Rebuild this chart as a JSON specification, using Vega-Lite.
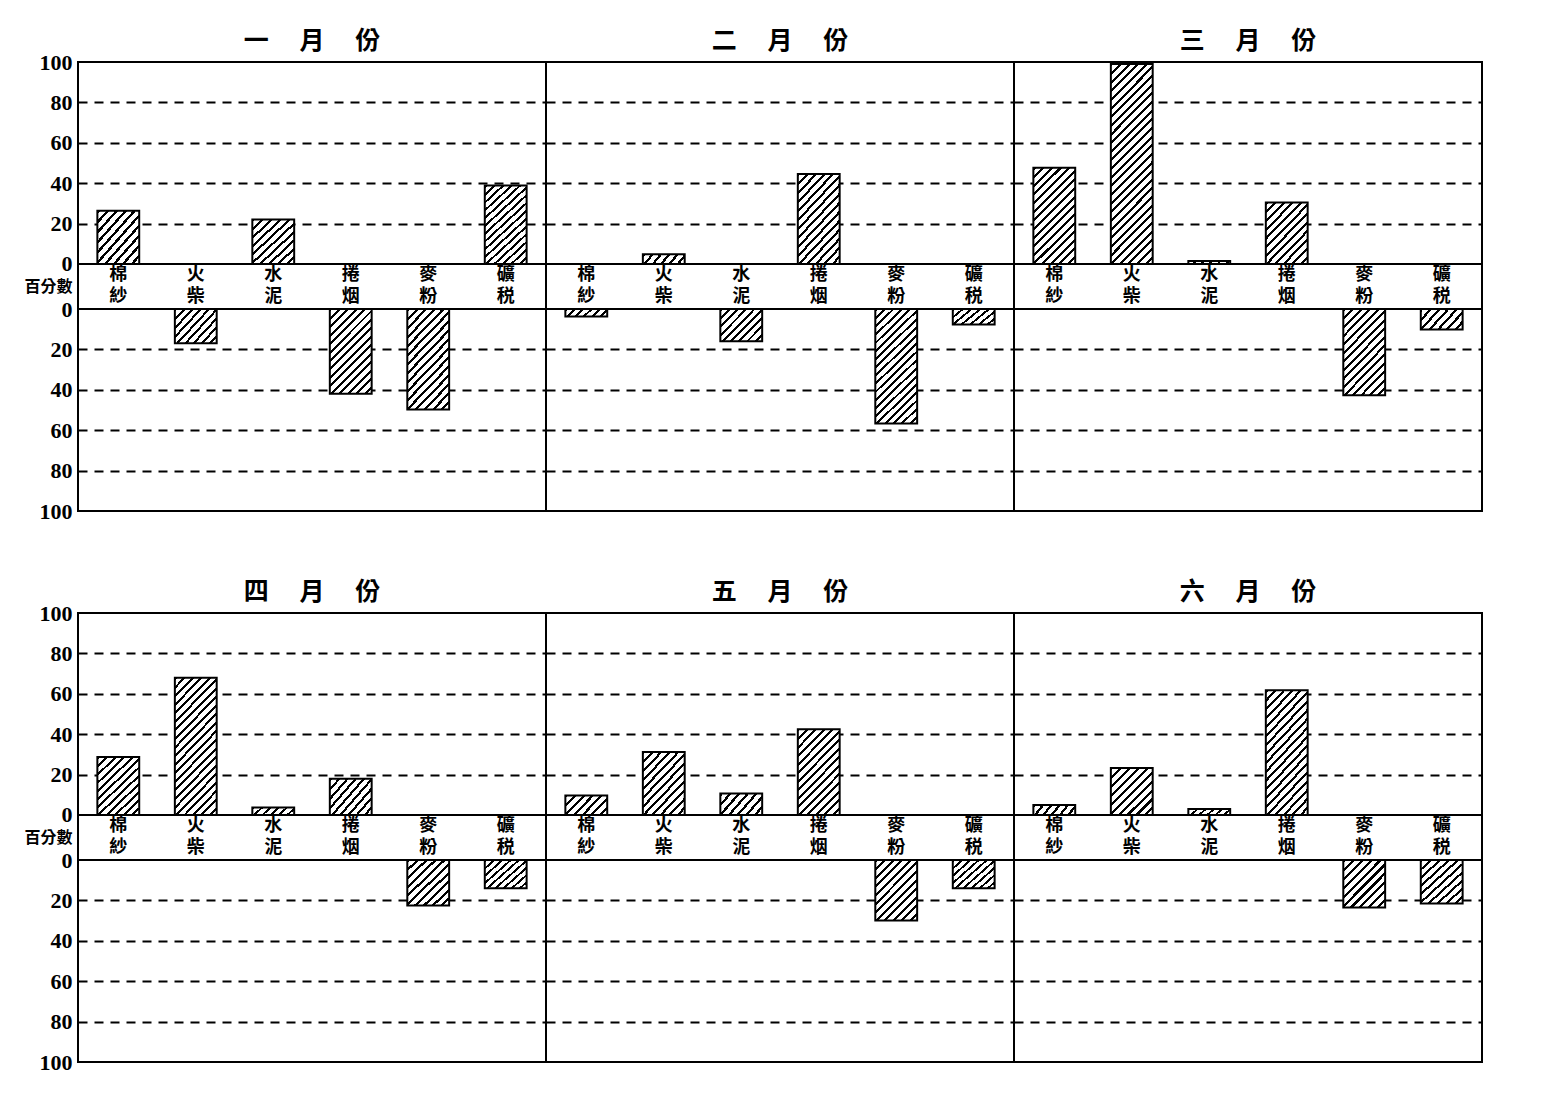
{
"$schema": "https://vega.github.io/schema/vega-lite/v6.json",
"background": "#ffffff",
"padding": {"left": 14, "top": 28, "right": 40, "bottom": 20},
"params": [{"name": "hatch", "value": [
{"gradient":"linear","x1":0,"y1":0,"x2":1.149,"y2":0.219,"stops":[{"offset":0,"color":"#000"},{"offset":0.0583,"color":"#000"},{"offset":0.0583,"color":"#fff"},{"offset":0.1667,"color":"#fff"},{"offset":0.1667,"color":"#000"},{"offset":0.225,"color":"#000"},{"offset":0.225,"color":"#fff"},{"offset":0.3333,"color":"#fff"},{"offset":0.3333,"color":"#000"},{"offset":0.3917,"color":"#000"},{"offset":0.3917,"color":"#fff"},{"offset":0.5,"color":"#fff"},{"offset":0.5,"color":"#000"},{"offset":0.5583,"color":"#000"},{"offset":0.5583,"color":"#fff"},{"offset":0.6667,"color":"#fff"},{"offset":0.6667,"color":"#000"},{"offset":0.725,"color":"#000"},{"offset":0.725,"color":"#fff"},{"offset":0.8333,"color":"#fff"},{"offset":0.8333,"color":"#000"},{"offset":0.8917,"color":"#000"},{"offset":0.8917,"color":"#fff"},{"offset":1,"color":"#fff"}]},
{"gradient":"linear","x1":0,"y1":0,"x2":1.206,"y2":0.545,"stops":[{"offset":0,"color":"#000"},{"offset":0.05,"color":"#000"},{"offset":0.05,"color":"#fff"},{"offset":0.1429,"color":"#fff"},{"offset":0.1429,"color":"#000"},{"offset":0.1929,"color":"#000"},{"offset":0.1929,"color":"#fff"},{"offset":0.2857,"color":"#fff"},{"offset":0.2857,"color":"#000"},{"offset":0.3357,"color":"#000"},{"offset":0.3357,"color":"#fff"},{"offset":0.4286,"color":"#fff"},{"offset":0.4286,"color":"#000"},{"offset":0.4786,"color":"#000"},{"offset":0.4786,"color":"#fff"},{"offset":0.5714,"color":"#fff"},{"offset":0.5714,"color":"#000"},{"offset":0.6214,"color":"#000"},{"offset":0.6214,"color":"#fff"},{"offset":0.7143,"color":"#fff"},{"offset":0.7143,"color":"#000"},{"offset":0.7643,"color":"#000"},{"offset":0.7643,"color":"#fff"},{"offset":0.8571,"color":"#fff"},{"offset":0.8571,"color":"#000"},{"offset":0.9071,"color":"#000"},{"offset":0.9071,"color":"#fff"},{"offset":1,"color":"#fff"}]},
{"gradient":"linear","x1":0,"y1":0,"x2":1.115,"y2":0.849,"stops":[{"offset":0,"color":"#000"},{"offset":0.0389,"color":"#000"},{"offset":0.0389,"color":"#fff"},{"offset":0.1111,"color":"#fff"},{"offset":0.1111,"color":"#000"},{"offset":0.15,"color":"#000"},{"offset":0.15,"color":"#fff"},{"offset":0.2222,"color":"#fff"},{"offset":0.2222,"color":"#000"},{"offset":0.2611,"color":"#000"},{"offset":0.2611,"color":"#fff"},{"offset":0.3333,"color":"#fff"},{"offset":0.3333,"color":"#000"},{"offset":0.3722,"color":"#000"},{"offset":0.3722,"color":"#fff"},{"offset":0.4444,"color":"#fff"},{"offset":0.4444,"color":"#000"},{"offset":0.4833,"color":"#000"},{"offset":0.4833,"color":"#fff"},{"offset":0.5556,"color":"#fff"},{"offset":0.5556,"color":"#000"},{"offset":0.5944,"color":"#000"},{"offset":0.5944,"color":"#fff"},{"offset":0.6667,"color":"#fff"},{"offset":0.6667,"color":"#000"},{"offset":0.7056,"color":"#000"},{"offset":0.7056,"color":"#fff"},{"offset":0.7778,"color":"#fff"},{"offset":0.7778,"color":"#000"},{"offset":0.8167,"color":"#000"},{"offset":0.8167,"color":"#fff"},{"offset":0.8889,"color":"#fff"},{"offset":0.8889,"color":"#000"},{"offset":0.9278,"color":"#000"},{"offset":0.9278,"color":"#fff"},{"offset":1,"color":"#fff"}]},
{"gradient":"linear","x1":0,"y1":0,"x2":0.935,"y2":1.058,"stops":[{"offset":0,"color":"#000"},{"offset":0.035,"color":"#000"},{"offset":0.035,"color":"#fff"},{"offset":0.1,"color":"#fff"},{"offset":0.1,"color":"#000"},{"offset":0.135,"color":"#000"},{"offset":0.135,"color":"#fff"},{"offset":0.2,"color":"#fff"},{"offset":0.2,"color":"#000"},{"offset":0.235,"color":"#000"},{"offset":0.235,"color":"#fff"},{"offset":0.3,"color":"#fff"},{"offset":0.3,"color":"#000"},{"offset":0.335,"color":"#000"},{"offset":0.335,"color":"#fff"},{"offset":0.4,"color":"#fff"},{"offset":0.4,"color":"#000"},{"offset":0.435,"color":"#000"},{"offset":0.435,"color":"#fff"},{"offset":0.5,"color":"#fff"},{"offset":0.5,"color":"#000"},{"offset":0.535,"color":"#000"},{"offset":0.535,"color":"#fff"},{"offset":0.6,"color":"#fff"},{"offset":0.6,"color":"#000"},{"offset":0.635,"color":"#000"},{"offset":0.635,"color":"#fff"},{"offset":0.7,"color":"#fff"},{"offset":0.7,"color":"#000"},{"offset":0.735,"color":"#000"},{"offset":0.735,"color":"#fff"},{"offset":0.8,"color":"#fff"},{"offset":0.8,"color":"#000"},{"offset":0.835,"color":"#000"},{"offset":0.835,"color":"#fff"},{"offset":0.9,"color":"#fff"},{"offset":0.9,"color":"#000"},{"offset":0.935,"color":"#000"},{"offset":0.935,"color":"#fff"},{"offset":1,"color":"#fff"}]},
{"gradient":"linear","x1":0,"y1":0,"x2":0.793,"y2":1.144,"stops":[{"offset":0,"color":"#000"},{"offset":0.0292,"color":"#000"},{"offset":0.0292,"color":"#fff"},{"offset":0.0833,"color":"#fff"},{"offset":0.0833,"color":"#000"},{"offset":0.1125,"color":"#000"},{"offset":0.1125,"color":"#fff"},{"offset":0.1667,"color":"#fff"},{"offset":0.1667,"color":"#000"},{"offset":0.1958,"color":"#000"},{"offset":0.1958,"color":"#fff"},{"offset":0.25,"color":"#fff"},{"offset":0.25,"color":"#000"},{"offset":0.2792,"color":"#000"},{"offset":0.2792,"color":"#fff"},{"offset":0.3333,"color":"#fff"},{"offset":0.3333,"color":"#000"},{"offset":0.3625,"color":"#000"},{"offset":0.3625,"color":"#fff"},{"offset":0.4167,"color":"#fff"},{"offset":0.4167,"color":"#000"},{"offset":0.4458,"color":"#000"},{"offset":0.4458,"color":"#fff"},{"offset":0.5,"color":"#fff"},{"offset":0.5,"color":"#000"},{"offset":0.5292,"color":"#000"},{"offset":0.5292,"color":"#fff"},{"offset":0.5833,"color":"#fff"},{"offset":0.5833,"color":"#000"},{"offset":0.6125,"color":"#000"},{"offset":0.6125,"color":"#fff"},{"offset":0.6667,"color":"#fff"},{"offset":0.6667,"color":"#000"},{"offset":0.6958,"color":"#000"},{"offset":0.6958,"color":"#fff"},{"offset":0.75,"color":"#fff"},{"offset":0.75,"color":"#000"},{"offset":0.7792,"color":"#000"},{"offset":0.7792,"color":"#fff"},{"offset":0.8333,"color":"#fff"},{"offset":0.8333,"color":"#000"},{"offset":0.8625,"color":"#000"},{"offset":0.8625,"color":"#fff"},{"offset":0.9167,"color":"#fff"},{"offset":0.9167,"color":"#000"},{"offset":0.9458,"color":"#000"},{"offset":0.9458,"color":"#fff"},{"offset":1,"color":"#fff"}]},
{"gradient":"linear","x1":0,"y1":0,"x2":0.593,"y2":1.201,"stops":[{"offset":0,"color":"#000"},{"offset":0.0233,"color":"#000"},{"offset":0.0233,"color":"#fff"},{"offset":0.0667,"color":"#fff"},{"offset":0.0667,"color":"#000"},{"offset":0.09,"color":"#000"},{"offset":0.09,"color":"#fff"},{"offset":0.1333,"color":"#fff"},{"offset":0.1333,"color":"#000"},{"offset":0.1567,"color":"#000"},{"offset":0.1567,"color":"#fff"},{"offset":0.2,"color":"#fff"},{"offset":0.2,"color":"#000"},{"offset":0.2233,"color":"#000"},{"offset":0.2233,"color":"#fff"},{"offset":0.2667,"color":"#fff"},{"offset":0.2667,"color":"#000"},{"offset":0.29,"color":"#000"},{"offset":0.29,"color":"#fff"},{"offset":0.3333,"color":"#fff"},{"offset":0.3333,"color":"#000"},{"offset":0.3567,"color":"#000"},{"offset":0.3567,"color":"#fff"},{"offset":0.4,"color":"#fff"},{"offset":0.4,"color":"#000"},{"offset":0.4233,"color":"#000"},{"offset":0.4233,"color":"#fff"},{"offset":0.4667,"color":"#fff"},{"offset":0.4667,"color":"#000"},{"offset":0.49,"color":"#000"},{"offset":0.49,"color":"#fff"},{"offset":0.5333,"color":"#fff"},{"offset":0.5333,"color":"#000"},{"offset":0.5567,"color":"#000"},{"offset":0.5567,"color":"#fff"},{"offset":0.6,"color":"#fff"},{"offset":0.6,"color":"#000"},{"offset":0.6233,"color":"#000"},{"offset":0.6233,"color":"#fff"},{"offset":0.6667,"color":"#fff"},{"offset":0.6667,"color":"#000"},{"offset":0.69,"color":"#000"},{"offset":0.69,"color":"#fff"},{"offset":0.7333,"color":"#fff"},{"offset":0.7333,"color":"#000"},{"offset":0.7567,"color":"#000"},{"offset":0.7567,"color":"#fff"},{"offset":0.8,"color":"#fff"},{"offset":0.8,"color":"#000"},{"offset":0.8233,"color":"#000"},{"offset":0.8233,"color":"#fff"},{"offset":0.8667,"color":"#fff"},{"offset":0.8667,"color":"#000"},{"offset":0.89,"color":"#000"},{"offset":0.89,"color":"#fff"},{"offset":0.9333,"color":"#fff"},{"offset":0.9333,"color":"#000"},{"offset":0.9567,"color":"#000"},{"offset":0.9567,"color":"#fff"},{"offset":1,"color":"#fff"}]},
{"gradient":"linear","x1":0,"y1":0,"x2":0.5225,"y2":1.207,"stops":[{"offset":0,"color":"#000"},{"offset":0.0219,"color":"#000"},{"offset":0.0219,"color":"#fff"},{"offset":0.0625,"color":"#fff"},{"offset":0.0625,"color":"#000"},{"offset":0.0844,"color":"#000"},{"offset":0.0844,"color":"#fff"},{"offset":0.125,"color":"#fff"},{"offset":0.125,"color":"#000"},{"offset":0.1469,"color":"#000"},{"offset":0.1469,"color":"#fff"},{"offset":0.1875,"color":"#fff"},{"offset":0.1875,"color":"#000"},{"offset":0.2094,"color":"#000"},{"offset":0.2094,"color":"#fff"},{"offset":0.25,"color":"#fff"},{"offset":0.25,"color":"#000"},{"offset":0.2719,"color":"#000"},{"offset":0.2719,"color":"#fff"},{"offset":0.3125,"color":"#fff"},{"offset":0.3125,"color":"#000"},{"offset":0.3344,"color":"#000"},{"offset":0.3344,"color":"#fff"},{"offset":0.375,"color":"#fff"},{"offset":0.375,"color":"#000"},{"offset":0.3969,"color":"#000"},{"offset":0.3969,"color":"#fff"},{"offset":0.4375,"color":"#fff"},{"offset":0.4375,"color":"#000"},{"offset":0.4594,"color":"#000"},{"offset":0.4594,"color":"#fff"},{"offset":0.5,"color":"#fff"},{"offset":0.5,"color":"#000"},{"offset":0.5219,"color":"#000"},{"offset":0.5219,"color":"#fff"},{"offset":0.5625,"color":"#fff"},{"offset":0.5625,"color":"#000"},{"offset":0.5844,"color":"#000"},{"offset":0.5844,"color":"#fff"},{"offset":0.625,"color":"#fff"},{"offset":0.625,"color":"#000"},{"offset":0.6469,"color":"#000"},{"offset":0.6469,"color":"#fff"},{"offset":0.6875,"color":"#fff"},{"offset":0.6875,"color":"#000"},{"offset":0.7094,"color":"#000"},{"offset":0.7094,"color":"#fff"},{"offset":0.75,"color":"#fff"},{"offset":0.75,"color":"#000"},{"offset":0.7719,"color":"#000"},{"offset":0.7719,"color":"#fff"},{"offset":0.8125,"color":"#fff"},{"offset":0.8125,"color":"#000"},{"offset":0.8344,"color":"#000"},{"offset":0.8344,"color":"#fff"},{"offset":0.875,"color":"#fff"},{"offset":0.875,"color":"#000"},{"offset":0.8969,"color":"#000"},{"offset":0.8969,"color":"#fff"},{"offset":0.9375,"color":"#fff"},{"offset":0.9375,"color":"#000"},{"offset":0.9594,"color":"#000"},{"offset":0.9594,"color":"#fff"},{"offset":1,"color":"#fff"}]},
{"gradient":"linear","x1":0,"y1":0,"x2":0.428,"y2":1.203,"stops":[{"offset":0,"color":"#000"},{"offset":0.0184,"color":"#000"},{"offset":0.0184,"color":"#fff"},{"offset":0.0526,"color":"#fff"},{"offset":0.0526,"color":"#000"},{"offset":0.071,"color":"#000"},{"offset":0.071,"color":"#fff"},{"offset":0.1053,"color":"#fff"},{"offset":0.1053,"color":"#000"},{"offset":0.1237,"color":"#000"},{"offset":0.1237,"color":"#fff"},{"offset":0.1579,"color":"#fff"},{"offset":0.1579,"color":"#000"},{"offset":0.1763,"color":"#000"},{"offset":0.1763,"color":"#fff"},{"offset":0.2105,"color":"#fff"},{"offset":0.2105,"color":"#000"},{"offset":0.2289,"color":"#000"},{"offset":0.2289,"color":"#fff"},{"offset":0.2632,"color":"#fff"},{"offset":0.2632,"color":"#000"},{"offset":0.2816,"color":"#000"},{"offset":0.2816,"color":"#fff"},{"offset":0.3158,"color":"#fff"},{"offset":0.3158,"color":"#000"},{"offset":0.3342,"color":"#000"},{"offset":0.3342,"color":"#fff"},{"offset":0.3684,"color":"#fff"},{"offset":0.3684,"color":"#000"},{"offset":0.3868,"color":"#000"},{"offset":0.3868,"color":"#fff"},{"offset":0.4211,"color":"#fff"},{"offset":0.4211,"color":"#000"},{"offset":0.4395,"color":"#000"},{"offset":0.4395,"color":"#fff"},{"offset":0.4737,"color":"#fff"},{"offset":0.4737,"color":"#000"},{"offset":0.4921,"color":"#000"},{"offset":0.4921,"color":"#fff"},{"offset":0.5263,"color":"#fff"},{"offset":0.5263,"color":"#000"},{"offset":0.5447,"color":"#000"},{"offset":0.5447,"color":"#fff"},{"offset":0.5789,"color":"#fff"},{"offset":0.5789,"color":"#000"},{"offset":0.5973,"color":"#000"},{"offset":0.5973,"color":"#fff"},{"offset":0.6316,"color":"#fff"},{"offset":0.6316,"color":"#000"},{"offset":0.65,"color":"#000"},{"offset":0.65,"color":"#fff"},{"offset":0.6842,"color":"#fff"},{"offset":0.6842,"color":"#000"},{"offset":0.7026,"color":"#000"},{"offset":0.7026,"color":"#fff"},{"offset":0.7368,"color":"#fff"},{"offset":0.7368,"color":"#000"},{"offset":0.7552,"color":"#000"},{"offset":0.7552,"color":"#fff"},{"offset":0.7895,"color":"#fff"},{"offset":0.7895,"color":"#000"},{"offset":0.8079,"color":"#000"},{"offset":0.8079,"color":"#fff"},{"offset":0.8421,"color":"#fff"},{"offset":0.8421,"color":"#000"},{"offset":0.8605,"color":"#000"},{"offset":0.8605,"color":"#fff"},{"offset":0.8947,"color":"#fff"},{"offset":0.8947,"color":"#000"},{"offset":0.9131,"color":"#000"},{"offset":0.9131,"color":"#fff"},{"offset":0.9474,"color":"#fff"},{"offset":0.9474,"color":"#000"},{"offset":0.9658,"color":"#000"},{"offset":0.9658,"color":"#fff"},{"offset":1,"color":"#fff"}]},
{"gradient":"linear","x1":0,"y1":0,"x2":0.372,"y2":1.195,"stops":[{"offset":0,"color":"#000"},{"offset":0.0167,"color":"#000"},{"offset":0.0167,"color":"#fff"},{"offset":0.0476,"color":"#fff"},{"offset":0.0476,"color":"#000"},{"offset":0.0643,"color":"#000"},{"offset":0.0643,"color":"#fff"},{"offset":0.0952,"color":"#fff"},{"offset":0.0952,"color":"#000"},{"offset":0.1119,"color":"#000"},{"offset":0.1119,"color":"#fff"},{"offset":0.1429,"color":"#fff"},{"offset":0.1429,"color":"#000"},{"offset":0.1596,"color":"#000"},{"offset":0.1596,"color":"#fff"},{"offset":0.1905,"color":"#fff"},{"offset":0.1905,"color":"#000"},{"offset":0.2072,"color":"#000"},{"offset":0.2072,"color":"#fff"},{"offset":0.2381,"color":"#fff"},{"offset":0.2381,"color":"#000"},{"offset":0.2548,"color":"#000"},{"offset":0.2548,"color":"#fff"},{"offset":0.2857,"color":"#fff"},{"offset":0.2857,"color":"#000"},{"offset":0.3024,"color":"#000"},{"offset":0.3024,"color":"#fff"},{"offset":0.3333,"color":"#fff"},{"offset":0.3333,"color":"#000"},{"offset":0.35,"color":"#000"},{"offset":0.35,"color":"#fff"},{"offset":0.381,"color":"#fff"},{"offset":0.381,"color":"#000"},{"offset":0.3977,"color":"#000"},{"offset":0.3977,"color":"#fff"},{"offset":0.4286,"color":"#fff"},{"offset":0.4286,"color":"#000"},{"offset":0.4453,"color":"#000"},{"offset":0.4453,"color":"#fff"},{"offset":0.4762,"color":"#fff"},{"offset":0.4762,"color":"#000"},{"offset":0.4929,"color":"#000"},{"offset":0.4929,"color":"#fff"},{"offset":0.5238,"color":"#fff"},{"offset":0.5238,"color":"#000"},{"offset":0.5405,"color":"#000"},{"offset":0.5405,"color":"#fff"},{"offset":0.5714,"color":"#fff"},{"offset":0.5714,"color":"#000"},{"offset":0.5881,"color":"#000"},{"offset":0.5881,"color":"#fff"},{"offset":0.619,"color":"#fff"},{"offset":0.619,"color":"#000"},{"offset":0.6357,"color":"#000"},{"offset":0.6357,"color":"#fff"},{"offset":0.6667,"color":"#fff"},{"offset":0.6667,"color":"#000"},{"offset":0.6834,"color":"#000"},{"offset":0.6834,"color":"#fff"},{"offset":0.7143,"color":"#fff"},{"offset":0.7143,"color":"#000"},{"offset":0.731,"color":"#000"},{"offset":0.731,"color":"#fff"},{"offset":0.7619,"color":"#fff"},{"offset":0.7619,"color":"#000"},{"offset":0.7786,"color":"#000"},{"offset":0.7786,"color":"#fff"},{"offset":0.8095,"color":"#fff"},{"offset":0.8095,"color":"#000"},{"offset":0.8262,"color":"#000"},{"offset":0.8262,"color":"#fff"},{"offset":0.8571,"color":"#fff"},{"offset":0.8571,"color":"#000"},{"offset":0.8738,"color":"#000"},{"offset":0.8738,"color":"#fff"},{"offset":0.9048,"color":"#fff"},{"offset":0.9048,"color":"#000"},{"offset":0.9215,"color":"#000"},{"offset":0.9215,"color":"#fff"},{"offset":0.9524,"color":"#fff"},{"offset":0.9524,"color":"#000"},{"offset":0.9691,"color":"#000"},{"offset":0.9691,"color":"#fff"},{"offset":1,"color":"#fff"}]},
{"gradient":"linear","x1":0,"y1":0,"x2":0.2434,"y2":1.159,"stops":[{"offset":0,"color":"#000"},{"offset":0.0125,"color":"#000"},{"offset":0.0125,"color":"#fff"},{"offset":0.0357,"color":"#fff"},{"offset":0.0357,"color":"#000"},{"offset":0.0482,"color":"#000"},{"offset":0.0482,"color":"#fff"},{"offset":0.0714,"color":"#fff"},{"offset":0.0714,"color":"#000"},{"offset":0.0839,"color":"#000"},{"offset":0.0839,"color":"#fff"},{"offset":0.1071,"color":"#fff"},{"offset":0.1071,"color":"#000"},{"offset":0.1196,"color":"#000"},{"offset":0.1196,"color":"#fff"},{"offset":0.1429,"color":"#fff"},{"offset":0.1429,"color":"#000"},{"offset":0.1554,"color":"#000"},{"offset":0.1554,"color":"#fff"},{"offset":0.1786,"color":"#fff"},{"offset":0.1786,"color":"#000"},{"offset":0.1911,"color":"#000"},{"offset":0.1911,"color":"#fff"},{"offset":0.2143,"color":"#fff"},{"offset":0.2143,"color":"#000"},{"offset":0.2268,"color":"#000"},{"offset":0.2268,"color":"#fff"},{"offset":0.25,"color":"#fff"},{"offset":0.25,"color":"#000"},{"offset":0.2625,"color":"#000"},{"offset":0.2625,"color":"#fff"},{"offset":0.2857,"color":"#fff"},{"offset":0.2857,"color":"#000"},{"offset":0.2982,"color":"#000"},{"offset":0.2982,"color":"#fff"},{"offset":0.3214,"color":"#fff"},{"offset":0.3214,"color":"#000"},{"offset":0.3339,"color":"#000"},{"offset":0.3339,"color":"#fff"},{"offset":0.3571,"color":"#fff"},{"offset":0.3571,"color":"#000"},{"offset":0.3696,"color":"#000"},{"offset":0.3696,"color":"#fff"},{"offset":0.3929,"color":"#fff"},{"offset":0.3929,"color":"#000"},{"offset":0.4054,"color":"#000"},{"offset":0.4054,"color":"#fff"},{"offset":0.4286,"color":"#fff"},{"offset":0.4286,"color":"#000"},{"offset":0.4411,"color":"#000"},{"offset":0.4411,"color":"#fff"},{"offset":0.4643,"color":"#fff"},{"offset":0.4643,"color":"#000"},{"offset":0.4768,"color":"#000"},{"offset":0.4768,"color":"#fff"},{"offset":0.5,"color":"#fff"},{"offset":0.5,"color":"#000"},{"offset":0.5125,"color":"#000"},{"offset":0.5125,"color":"#fff"},{"offset":0.5357,"color":"#fff"},{"offset":0.5357,"color":"#000"},{"offset":0.5482,"color":"#000"},{"offset":0.5482,"color":"#fff"},{"offset":0.5714,"color":"#fff"},{"offset":0.5714,"color":"#000"},{"offset":0.5839,"color":"#000"},{"offset":0.5839,"color":"#fff"},{"offset":0.6071,"color":"#fff"},{"offset":0.6071,"color":"#000"},{"offset":0.6196,"color":"#000"},{"offset":0.6196,"color":"#fff"},{"offset":0.6429,"color":"#fff"},{"offset":0.6429,"color":"#000"},{"offset":0.6554,"color":"#000"},{"offset":0.6554,"color":"#fff"},{"offset":0.6786,"color":"#fff"},{"offset":0.6786,"color":"#000"},{"offset":0.6911,"color":"#000"},{"offset":0.6911,"color":"#fff"},{"offset":0.7143,"color":"#fff"},{"offset":0.7143,"color":"#000"},{"offset":0.7268,"color":"#000"},{"offset":0.7268,"color":"#fff"},{"offset":0.75,"color":"#fff"},{"offset":0.75,"color":"#000"},{"offset":0.7625,"color":"#000"},{"offset":0.7625,"color":"#fff"},{"offset":0.7857,"color":"#fff"},{"offset":0.7857,"color":"#000"},{"offset":0.7982,"color":"#000"},{"offset":0.7982,"color":"#fff"},{"offset":0.8214,"color":"#fff"},{"offset":0.8214,"color":"#000"},{"offset":0.8339,"color":"#000"},{"offset":0.8339,"color":"#fff"},{"offset":0.8571,"color":"#fff"},{"offset":0.8571,"color":"#000"},{"offset":0.8696,"color":"#000"},{"offset":0.8696,"color":"#fff"},{"offset":0.8929,"color":"#fff"},{"offset":0.8929,"color":"#000"},{"offset":0.9054,"color":"#000"},{"offset":0.9054,"color":"#fff"},{"offset":0.9286,"color":"#fff"},{"offset":0.9286,"color":"#000"},{"offset":0.9411,"color":"#000"},{"offset":0.9411,"color":"#fff"},{"offset":0.9643,"color":"#fff"},{"offset":0.9643,"color":"#000"},{"offset":0.9768,"color":"#000"},{"offset":0.9768,"color":"#fff"},{"offset":1,"color":"#fff"}]}
]}],
"data": {"values": [
{"month":"一月份","item":"棉紗","value":26.4},{"month":"一月份","item":"火柴","value":-17},{"month":"一月份","item":"水泥","value":22},{"month":"一月份","item":"捲烟","value":-42},{"month":"一月份","item":"麥粉","value":-49.7},{"month":"一月份","item":"礦税","value":38.8},
{"month":"二月份","item":"棉紗","value":-3.7},{"month":"二月份","item":"火柴","value":4.8},{"month":"二月份","item":"水泥","value":-16},{"month":"二月份","item":"捲烟","value":44.6},{"month":"二月份","item":"麥粉","value":-56.7},{"month":"二月份","item":"礦税","value":-7.7},
{"month":"三月份","item":"棉紗","value":47.7},{"month":"三月份","item":"火柴","value":99},{"month":"三月份","item":"水泥","value":1.5},{"month":"三月份","item":"捲烟","value":30.5},{"month":"三月份","item":"麥粉","value":-42.7},{"month":"三月份","item":"礦税","value":-10.2},
{"month":"四月份","item":"棉紗","value":28.7},{"month":"四月份","item":"火柴","value":68},{"month":"四月份","item":"水泥","value":3.7},{"month":"四月份","item":"捲烟","value":18},{"month":"四月份","item":"麥粉","value":-22.5},{"month":"四月份","item":"礦税","value":-14},
{"month":"五月份","item":"棉紗","value":9.7},{"month":"五月份","item":"火柴","value":31.2},{"month":"五月份","item":"水泥","value":10.7},{"month":"五月份","item":"捲烟","value":42.5},{"month":"五月份","item":"麥粉","value":-30},{"month":"五月份","item":"礦税","value":-14},
{"month":"六月份","item":"棉紗","value":5},{"month":"六月份","item":"火柴","value":23.3},{"month":"六月份","item":"水泥","value":3},{"month":"六月份","item":"捲烟","value":61.7},{"month":"六月份","item":"麥粉","value":-23.5},{"month":"六月份","item":"礦税","value":-21.5}
]},
"facet": {"field": "month", "type": "nominal", "sort": ["一月份","二月份","三月份","四月份","五月份","六月份"], "title": null,
  "header": {"labelFont": "Noto Sans CJK TC", "labelFontSize": 25, "labelFontWeight": "bold", "labelColor": "#000", "labelPadding": 8, "labelExpr": "join(split(datum.label, ''), '\u3000  ')"}},
"columns": 3,
"bounds": "flush",
"spacing": {"row": 102, "column": 0},
"resolve": {"axis": {"x": "independent"}},
"spec": {
  "width": 468,
  "height": 449,
  "layer": [
    {"transform": [{"filter": "datum.value > 0"}],
     "mark": {"type": "bar", "stroke": "#000", "strokeWidth": 2, "fill": {"expr": "hatch[abs(datum.value) < 7 ? 0 : abs(datum.value) < 12.5 ? 1 : abs(datum.value) < 20 ? 2 : abs(datum.value) < 27.5 ? 3 : abs(datum.value) < 35.5 ? 4 : abs(datum.value) < 45.5 ? 5 : abs(datum.value) < 52.5 ? 6 : abs(datum.value) < 64 ? 7 : abs(datum.value) < 80 ? 8 : 9]"}},
     "encoding": {
       "x": {"field": "item", "type": "nominal", "sort": ["棉紗","火柴","水泥","捲烟","麥粉","礦税"], "title": null,
             "scale": {"domain": ["棉紗","火柴","水泥","捲烟","麥粉","礦税"], "paddingInner": 0.46, "paddingOuter": 0.25},
             "axis": {"orient": "bottom", "offset": -247, "domain": false, "ticks": false, "grid": false, "labelAngle": 0, "labelFont": "Noto Sans CJK TC", "labelFontSize": 18, "labelFontWeight": "bold", "labelColor": "#000", "labelPadding": 1, "labelBaseline": "top", "labelLineHeight": 22, "labelExpr": "split(datum.label, '')"}},
       "y": {"field": "value", "type": "quantitative", "title": null,
             "scale": {"domain": [-122.28, 100], "nice": false, "zero": false},
             "axis": {"orient": "left", "title": null, "tickCount": 30, "values": [-122.28, -102.28, -82.28, -62.28, -42.28, -22.28, -11.14, 0, 20, 40, 60, 80, 100],
                      "labelExpr": "datum.value >= 0 ? datum.label : datum.value > -20 ? '百分數' : '' + round(-datum.value - 22.28)",
                      "ticks": false, "domain": false, "grid": true, "gridColor": "#000", "gridWidth": 1.8, "gridDash": [9, 7],
                      "gridOpacity": {"condition": {"test": "datum.value >= 100 || (datum.value <= 0 && datum.value > -30) || datum.value < -110", "value": 0}, "value": 1},
                      "labelFont": {"condition": {"test": "datum.value < 0 && datum.value > -20", "value": "Noto Sans CJK TC"}, "value": "Liberation Serif"},
                      "labelFontSize": {"condition": {"test": "datum.value < 0 && datum.value > -20", "value": 16}, "value": 22},
                      "labelFontWeight": "bold", "labelColor": "#000", "labelPadding": 6, "labelFlush": false, "labelOverlap": false,
                      "minExtent": 64, "maxExtent": 64}}
     }},
    {"transform": [{"filter": "datum.value < 0"}],
     "mark": {"type": "bar", "stroke": "#000", "strokeWidth": 2, "yOffset": 45, "y2Offset": 45, "fill": {"expr": "hatch[abs(datum.value) < 7 ? 0 : abs(datum.value) < 12.5 ? 1 : abs(datum.value) < 20 ? 2 : abs(datum.value) < 27.5 ? 3 : abs(datum.value) < 35.5 ? 4 : abs(datum.value) < 45.5 ? 5 : abs(datum.value) < 52.5 ? 6 : abs(datum.value) < 64 ? 7 : abs(datum.value) < 80 ? 8 : 9]"}},
     "encoding": {
       "x": {"field": "item", "type": "nominal", "sort": ["棉紗","火柴","水泥","捲烟","麥粉","礦税"], "title": null},
       "y": {"field": "value", "type": "quantitative", "title": null}
     }},
    {"mark": {"type": "rule", "color": "#000", "strokeWidth": 2}, "encoding": {"y": {"datum": 0, "type": "quantitative", "title": null}}},
    {"mark": {"type": "rule", "color": "#000", "strokeWidth": 2}, "encoding": {"y": {"datum": -22.28, "type": "quantitative", "title": null}}}
  ]
},
"config": {"view": {"stroke": "#000", "strokeWidth": 2}, "font": "Liberation Serif"}
}
